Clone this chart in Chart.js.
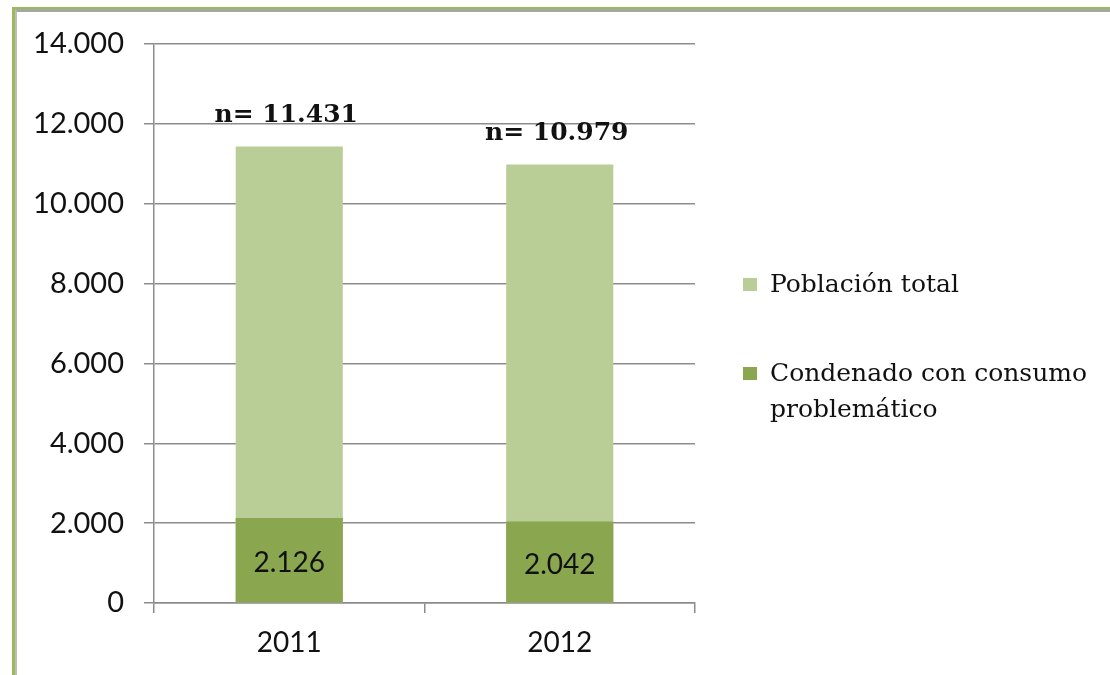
<!DOCTYPE html>
<html lang="es">
<head>
<meta charset="utf-8">
<title>Población total y condenados con consumo problemático</title>
<script src="https://cdn.jsdelivr.net/npm/chart.js@4/dist/chart.umd.min.js"></script>
<style>
  html, body { margin: 0; padding: 0; background: #fff; }
  #wrap { position: relative; width: 1110px; height: 675px; overflow: hidden; }
  #frame {
    position: absolute; left: 12px; top: 7px; width: 1200px; height: 800px;
    border-top: 2px solid #9bbb59; border-left: 3px solid #9bbb59;
  }
  #frame::after {
    content: ""; position: absolute; left: 0; top: 0; right: 0; bottom: 0;
    border-top: 3px solid #a6a6a6; border-left: 2px solid #bdbdbd;
  }
  #chart { position: absolute; left: 0; top: 0; }
  #legend { position: absolute; left: 743px; top: 266px; font-family: "DejaVu Serif", serif; font-size: 25px; color: #111; }
  #legend .item { position: relative; padding-left: 27px; line-height: 36px; }
  #legend .item + .item { margin-top: 53px; }
  #legend .box { position: absolute; left: 0; top: 12px; width: 14px; height: 13px; }
</style>
</head>
<body>
<div id="wrap">
  <div id="frame"></div>
  <canvas id="chart" width="1110" height="675"></canvas>
  <div id="legend"></div>
</div>
<script>
const years = ['2011', '2012'];
const poblacionTotal = [11431, 10979];
const condenados = [2126, 2042];
const yTicks = [0, 2000, 4000, 6000, 8000, 10000, 12000, 14000];

const colorTotal = '#b9ce97';
const colorCondenados = '#8aa64f';

// 11431 -> "11.431"
function miles(v) {
    return String(v).replace(/\B(?=(\d{3})+(?!\d))/g, '.');
}

const etiquetas = {
    id: 'etiquetas',
    afterDatasetsDraw(chart) {
        const ctx = chart.ctx;
        ctx.save();
        ctx.textAlign = 'center';
        ctx.textBaseline = 'middle';
        ctx.fillStyle = '#111';

        // value inside the dark bars
        const metaC = chart.getDatasetMeta(0);
        ctx.font = '28px Lato, sans-serif';
        metaC.data.forEach((bar, i) => {
            ctx.fillText(miles(condenados[i]), bar.x, (bar.y + bar.base) / 2 + 3);
        });

        // n= total above the light bars
        const metaT = chart.getDatasetMeta(1);
        ctx.font = 'bold 25px "DejaVu Serif", serif';
        metaT.data.forEach((bar, i) => {
            ctx.fillText('n= ' + miles(poblacionTotal[i]), bar.x - 3, bar.y - 31);
        });
        ctx.restore();
    }
};

const chart = new Chart(document.getElementById('chart'), {
    type: 'bar',
    data: {
        labels: years,
        datasets: [{
            label: ['Condenado con consumo', 'problemático'],
            data: condenados,
            backgroundColor: colorCondenados,
            categoryPercentage: 0.4,
            barPercentage: 0.99
        }, {
            label: 'Población total',
            data: poblacionTotal,
            backgroundColor: colorTotal,
            categoryPercentage: 0.4,
            barPercentage: 0.99
        }]
    },
    options: {
        responsive: false,
        animation: false,
        layout: { padding: { left: 0, top: 44, right: 415, bottom: 0 } },
        plugins: {
            legend: { display: false },
            tooltip: { enabled: false }
        },
        scales: {
            x: {
                stacked: true,
                offset: true,
                afterFit: function (scale) { scale.height = 72; },
                grid: {
                    offset: true,
                    drawOnChartArea: false,
                    tickLength: 10,
                    color: '#8c8c8c',
                    lineWidth: 1.5
                },
                border: { color: '#8c8c8c', width: 1.5 },
                ticks: {
                    padding: 13,
                    color: '#111',
                    font: { family: 'Lato', size: 28 }
                }
            },
            y: {
                stacked: false,
                min: 0,
                max: 14000,
                afterFit: function (scale) { scale.width = 154; },
                afterBuildTicks: function (scale) {
                    scale.ticks = yTicks.map(v => ({ value: v }));
                },
                grid: {
                    color: '#8c8c8c',
                    lineWidth: 1.5,
                    tickLength: 10
                },
                border: { color: '#8c8c8c', width: 1.5 },
                ticks: {
                    padding: 20,
                    color: '#111',
                    font: { family: 'Lato', size: 29 },
                    callback: v => miles(v)
                }
            }
        }
    },
    plugins: [etiquetas]
});

// legend: Población total first, then the dark series
const legend = document.getElementById('legend');
[1, 0].forEach(i => {
    const ds = chart.data.datasets[i];
    const item = document.createElement('div');
    item.className = 'item';
    const box = document.createElement('span');
    box.className = 'box';
    box.style.background = ds.backgroundColor;
    item.appendChild(box);
    const lines = Array.isArray(ds.label) ? ds.label : [ds.label];
    lines.forEach((t, k) => {
        if (k) item.appendChild(document.createElement('br'));
        item.appendChild(document.createTextNode(t));
    });
    legend.appendChild(item);
});
</script>
</body>
</html>
